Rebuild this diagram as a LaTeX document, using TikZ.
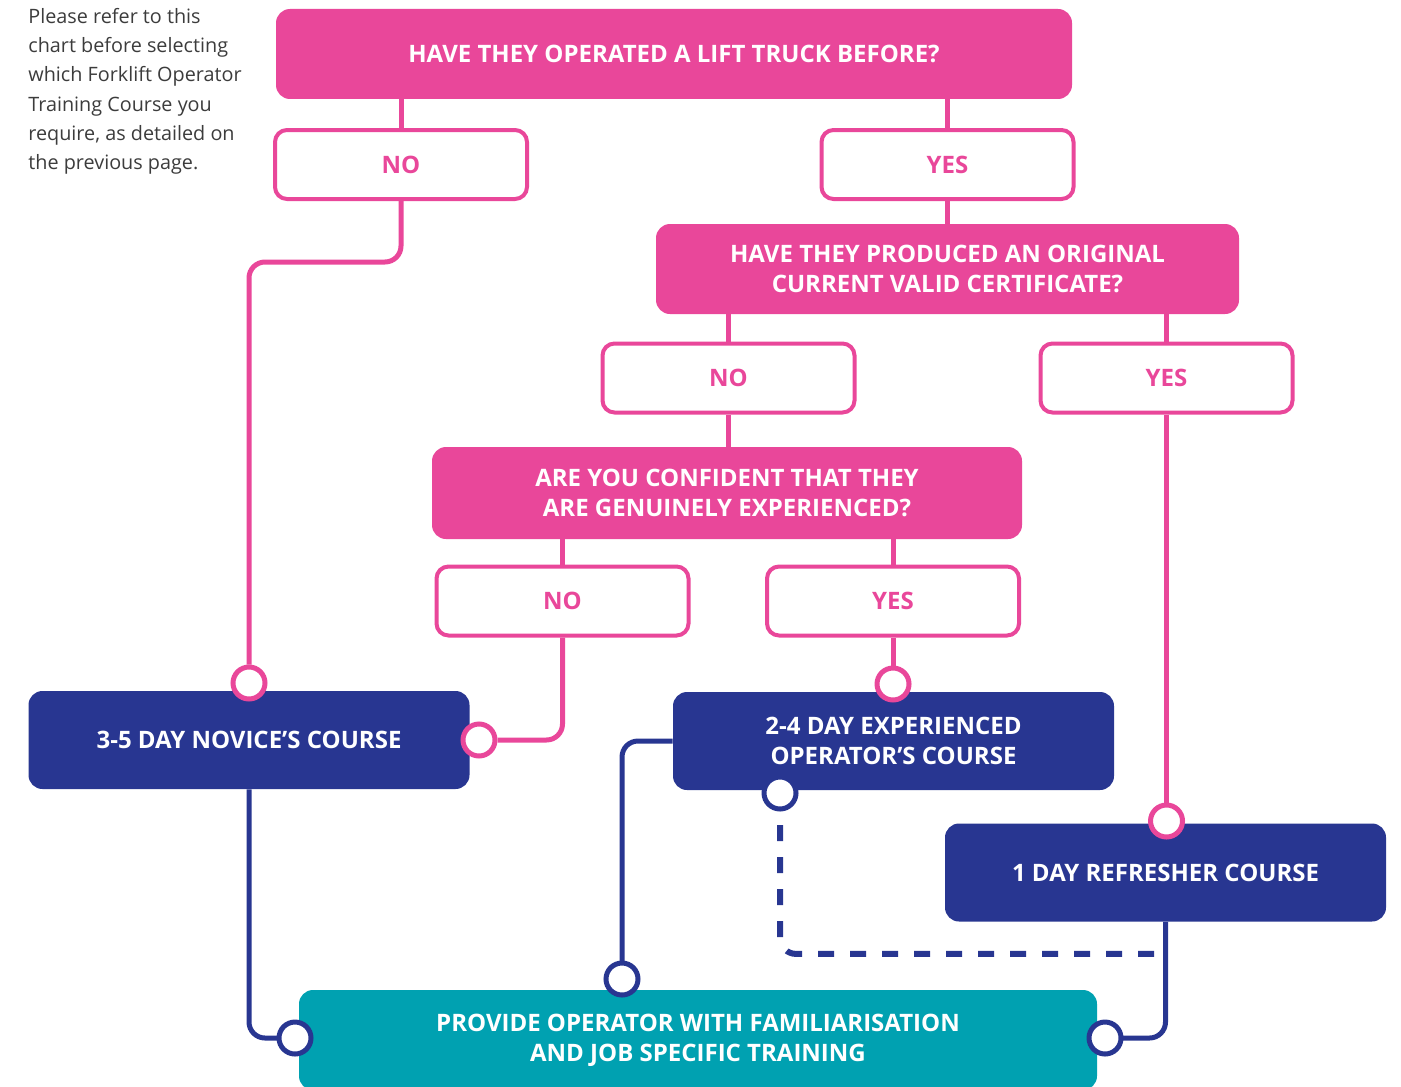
\documentclass[tikz,border=0pt]{standalone}
\usepackage{fontspec}
\setmainfont{Open Sans}
\usetikzlibrary{positioning}

\definecolor{chartpink}{HTML}{E9479A}
\definecolor{chartblue}{HTML}{283691}
\definecolor{chartteal}{HTML}{00A1B1}
\definecolor{notegray}{HTML}{3C3C3C}

\begin{document}
\begin{tikzpicture}[
  x=0.5pt, y=-0.5pt,
  question/.style={
    rectangle, fill=chartpink, rounded corners=7pt,
    text=white, align=center, inner sep=0pt,
    font=\bfseries\fontsize{12}{15}\selectfont
  },
  answer/.style={
    rectangle, draw=chartpink, line width=2pt, fill=white,
    rounded corners=6pt, minimum width=126pt, minimum height=34.5pt,
    text=chartpink, inner sep=0pt,
    font=\bfseries\fontsize{12}{15}\selectfont
  },
  course/.style={
    rectangle, fill=chartblue, rounded corners=7pt,
    minimum width=220.5pt, minimum height=49pt,
    text=white, align=center, inner sep=0pt,
    font=\bfseries\fontsize{12}{15}\selectfont
  },
  finalbox/.style={
    rectangle, fill=chartteal, rounded corners=7pt,
    minimum width=399pt, minimum height=50pt,
    text=white, align=center, inner sep=0pt,
    font=\bfseries\fontsize{12}{15}\selectfont
  },
  pinkdot/.style={
    circle, draw=chartpink, fill=white, line width=2.5pt,
    minimum size=16pt, inner sep=0pt
  },
  bluedot/.style={pinkdot, draw=chartblue},
  pinkline/.style={draw=chartpink, line width=2.5pt, rounded corners=8pt},
  blueline/.style={draw=chartblue, line width=2.5pt, rounded corners=8pt}
]
\useasboundingbox (0,0) rectangle (1401,1086);
\clip (0,0) rectangle (1401,1086);

% Note
\node[anchor=north west, align=left, inner sep=0pt, text=notegray,
  font=\fontsize{9.9}{14.6}\selectfont] (note) at (28,8) {
  Please refer to this\\
  chart before selecting\\
  which Forklift Operator\\
  Training Course you\\
  require, as detailed on\\
  the previous page.
};

% Questions
\node[question, minimum width=398pt, minimum height=45pt] (q1) at (674,54)
  {HAVE THEY OPERATED A LIFT TRUCK BEFORE?};
\node[question, minimum width=291.5pt, minimum height=45pt] (q2) at (947.5,269)
  {HAVE THEY PRODUCED AN ORIGINAL\\CURRENT VALID CERTIFICATE?};
\node[question, minimum width=295pt, minimum height=46pt] (q3) at (727,493)
  {ARE YOU CONFIDENT THAT THEY\\ARE GENUINELY EXPERIENCED?};

% Answers
\node[answer] (no1) at (401,164.5) {NO};
\node[answer] (yes1) at (947.5,164.5) {YES};
\node[answer] (no2) at (728.5,378) {NO};
\node[answer] (yes2) at (1166.5,378) {YES};
\node[answer] (no3) at (562.5,601) {NO};
\node[answer] (yes3) at (893,601) {YES};

% Courses
\node[course] (novice) at (249,740) {3-5 DAY NOVICE'S COURSE};
\node[course] (experienced) at (893.5,741) {2-4 DAY EXPERIENCED\\OPERATOR'S COURSE};
\node[course] (refresher) at (1165.5,872.5) {1 DAY REFRESHER COURSE};
\node[finalbox] (training) at (698,1040)
  {PROVIDE OPERATOR WITH FAMILIARISATION\\AND JOB SPECIFIC TRAINING};

% Edges
\draw[pinkline] (q1.south -| no1.north) -- (no1.north);
\draw[pinkline] (q1.south -| yes1.north) -- (yes1.north);
\draw[pinkline] (yes1.south) -- (q2.north -| yes1.south);
\draw[pinkline] (q2.south -| no2.north) -- (no2.north);
\draw[pinkline] (q2.south -| yes2.north) -- (yes2.north);
\draw[pinkline] (no2.south) -- (q3.north -| no2.south);
\draw[pinkline] (q3.south -| no3.north) -- (no3.north);
\draw[pinkline] (q3.south -| yes3.north) -- (yes3.north);

\draw[blueline] (novice.south) |- (295,1038);
\draw[blueline] (experienced.west) -| (622,979);
\draw[blueline] (refresher.south) |- (1105,1038);
\draw[draw=chartblue, line width=3pt, dash pattern=on 8pt off 8pt, rounded corners=8pt]
  (780,793) |- ([yshift=-16pt]refresher.south);

% Dots
\node[pinkdot] (dotnovice) at (249,683) {};
\node[pinkdot] (dotnoviceside) at (479,740) {};
\node[pinkdot] (dotexperienced) at (893,684) {};
\node[bluedot] (dotexpbottom) at (780,793) {};
\node[pinkdot] (dotrefresher) at (1166.5,821) {};
\node[bluedot] (dottrainingtop) at (622,979) {};
\node[bluedot] (dottrainingleft) at (295,1038) {};
\node[bluedot] (dottrainingright) at (1105,1038) {};

\draw[pinkline] (no1.south) -- ++(0,61) -| (dotnovice.north);
\draw[pinkline] (no3.south) |- (dotnoviceside.east);
\draw[pinkline] (yes3.south) -- (dotexperienced.north);
\draw[pinkline] (yes2.south) -- (dotrefresher.north);

\end{tikzpicture}
\end{document}
